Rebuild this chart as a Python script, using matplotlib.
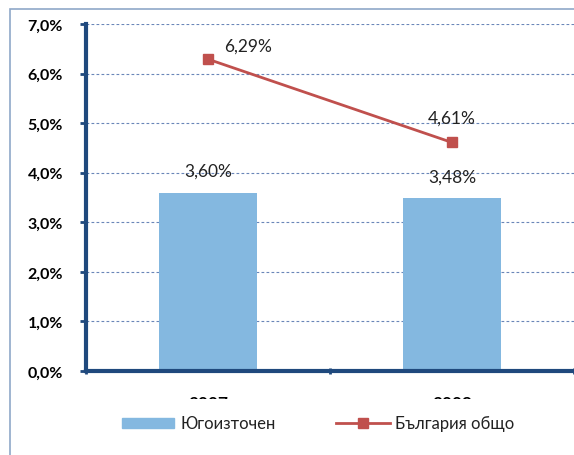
import matplotlib.pyplot as plt
from matplotlib.patches import Rectangle
from matplotlib.lines import Line2D
from matplotlib.ticker import FuncFormatter

# data
years = ["2007", "2008"]
region_vals = [3.60, 3.48]      # Югоизточен
bulgaria_vals = [6.29, 4.61]    # България общо
region_labels = ["3,60%", "3,48%"]
bulgaria_labels = ["6,29%", "4,61%"]

plt.rcParams['font.family'] = ['Lato', 'DejaVu Sans']

W, H = 574, 456
PT = 0.72  # points per pixel at dpi 100
fig = plt.figure(figsize=(W / 100, H / 100), dpi=100)

# outer frame (runs off the right and bottom edges)
fig.patches.append(Rectangle((10 / W, -0.1), 1.2, (H - 10) / H + 0.1 - 0.001,
                             transform=fig.transFigure, fill=False,
                             edgecolor="#8FA8C8", linewidth=1.2))

ax = fig.add_axes([86 / W, (H - 372) / H, (W - 86) / W, (372 - 25) / H])

x = [0, 1]
ax.bar(x, region_vals, width=0.4, color="#84B8E0", zorder=2)
ax.plot(x, bulgaria_vals, color="#C0504D", linewidth=2, marker="s",
        markersize=7, zorder=3)

ax.set_xlim(-0.5, 1.5)
ax.set_ylim(0, 7)
ax.set_yticks(range(0, 8))
ax.yaxis.set_major_formatter(FuncFormatter(lambda v, p: f"{v:.1f}%".replace(".", ",")))
for lbl in ax.get_yticklabels():
    lbl.set_fontweight("bold")
ax.tick_params(axis="y", labelsize=11.5, length=4.5, width=2, color="#1F497D", pad=12)

ax.set_xticks([-0.5, 0.5, 1.5])
ax.set_xticklabels([])
ax.tick_params(axis="x", length=5, width=2, color="#1F497D", direction="inout")

ax.grid(axis="y", color="#6A86B8", linestyle=(0, (2.5, 2)), linewidth=0.8)
ax.set_axisbelow(True)

for s in ["top", "right"]:
    ax.spines[s].set_visible(False)
for s in ["left", "bottom"]:
    ax.spines[s].set_color("#1F497D")
    ax.spines[s].set_linewidth(3)

# data labels
for xi, v, t in zip(x, region_vals, region_labels):
    ax.annotate(t, (xi, v), xytext=(0, 21.5 * PT), textcoords="offset points",
                ha="center", va="center", fontsize=12.5, color="#222222")
for xi, v, t, dx, dy in zip(x, bulgaria_vals, bulgaria_labels, [40, 0], [14, 25]):
    ax.annotate(t, (xi, v), xytext=(dx * PT, dy * PT), textcoords="offset points",
                ha="center", va="center", fontsize=12.5, color="#222222")

# x tick labels, mostly hidden behind the legend strip
clip = Rectangle((0, (H - 400) / H), 1, 0.2, transform=fig.transFigure)
for xi, yr in zip(x, years):
    t = ax.text(xi, -24 / 347, yr, ha="center", va="top", fontsize=12.5,
                fontweight="bold", transform=ax.get_xaxis_transform())
    t.set_clip_path(clip)
    t.set_clip_on(True)

# legend
fig.patches.append(Rectangle((122 / W, (H - 429) / H), 52 / W, 10 / H,
                             transform=fig.transFigure, color="#84B8E0"))
fig.text(180 / W, (H - 424) / H, "Югоизточен", fontsize=12, va="center",
         color="#222222")
fig.lines.append(Line2D([336 / W, 390 / W], [(H - 424) / H] * 2,
                        transform=fig.transFigure, color="#C0504D", linewidth=2))
fig.lines.append(Line2D([363 / W], [(H - 424) / H], transform=fig.transFigure,
                        color="#C0504D", marker="s", markersize=7))
fig.text(395 / W, (H - 424) / H, "България общо", fontsize=12, va="center",
         color="#222222")

fig.savefig("out.png", dpi=100)
